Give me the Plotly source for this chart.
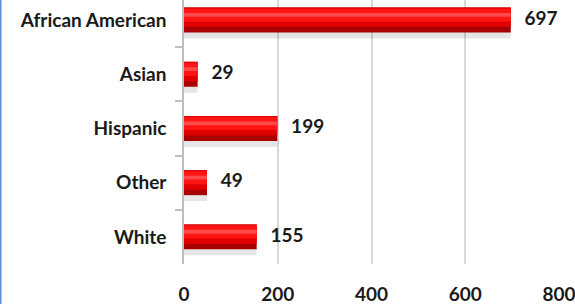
import plotly.graph_objects as go

categories = ["African American", "Asian", "Hispanic", "Other", "White"]
values = [697, 29, 199, 49, 155]
x_ticks = [0, 200, 400, 600, 800]

FONT = "Lato"
SIZE = 19
fig = go.Figure()

# soft shadow under each bar
fig.add_trace(go.Bar(y=categories, x=values, orientation="h", width=0.5, offset=-0.16,
                     marker=dict(color="rgba(0,0,0,0.10)", line=dict(width=0)),
                     hoverinfo="skip", showlegend=False))
# dark base of bar
fig.add_trace(go.Bar(y=categories, x=values, orientation="h", width=0.46, offset=-0.23,
                     marker=dict(color="#a80000", line=dict(width=0)),
                     hoverinfo="skip", showlegend=False))
# mid red
fig.add_trace(go.Bar(y=categories, x=values, orientation="h", width=0.36, offset=-0.23,
                     marker=dict(color="#e00000", line=dict(width=0)),
                     hoverinfo="skip", showlegend=False))
# bright top
fig.add_trace(go.Bar(y=categories, x=values, orientation="h", width=0.24, offset=-0.21,
                     marker=dict(color="#ff1414", line=dict(width=0)),
                     hoverinfo="skip", showlegend=False))
# highlight stripe
fig.add_trace(go.Bar(y=categories, x=values, orientation="h", width=0.07, offset=-0.13,
                     marker=dict(color="#ff4a4a", line=dict(width=0)),
                     hoverinfo="skip", showlegend=False))
# value labels
fig.add_trace(go.Scatter(y=categories, x=values, mode="text",
                         text=[f"   {v}" for v in values], textposition="middle right",
                         textfont=dict(family=FONT, size=SIZE, color="#1a1a1a", weight="bold"),
                         cliponaxis=False, hoverinfo="skip", showlegend=False))

fig.update_layout(
    width=575, height=304,
    margin=dict(l=184, r=16, t=0, b=40),
    paper_bgcolor="white", plot_bgcolor="white",
    barmode="overlay",
    font=dict(family=FONT, size=SIZE, color="#1a1a1a"),
    xaxis=dict(range=[0, 800], tickvals=x_ticks, ticktext=[str(t) for t in x_ticks],
               showgrid=True, gridcolor="#d9d9d9", gridwidth=1.5, zeroline=False,
               showline=False, ticks="outside", ticklen=13, tickcolor="rgba(0,0,0,0)",
               tickfont=dict(family=FONT, size=SIZE, color="#1a1a1a", weight="bold"),
               ticklabeloverflow="allow",
               automargin=False, fixedrange=True),
    yaxis=dict(categoryorder="array", categoryarray=categories, range=[4.5, -0.37],
               showline=True, linecolor="#bfbfbf", linewidth=1.5,
               ticks="outside", tickson="boundaries", ticklen=7, tickcolor="#bfbfbf",
               tickwidth=1.5, ticklabelstandoff=12,
               tickfont=dict(family=FONT, size=SIZE, color="#1a1a1a", weight="bold"),
               showgrid=False, automargin=False, fixedrange=True),
    shapes=[dict(type="line", xref="paper", yref="paper", x0=-0.4893, x1=-0.4893,
                 y0=-0.2, y1=1.05, line=dict(color="#5b8bd9", width=2))],
)

fig.write_html("out.html", config={"displayModeBar": False},
               post_script="document.body.style.margin='0';document.body.style.overflow='hidden';")
